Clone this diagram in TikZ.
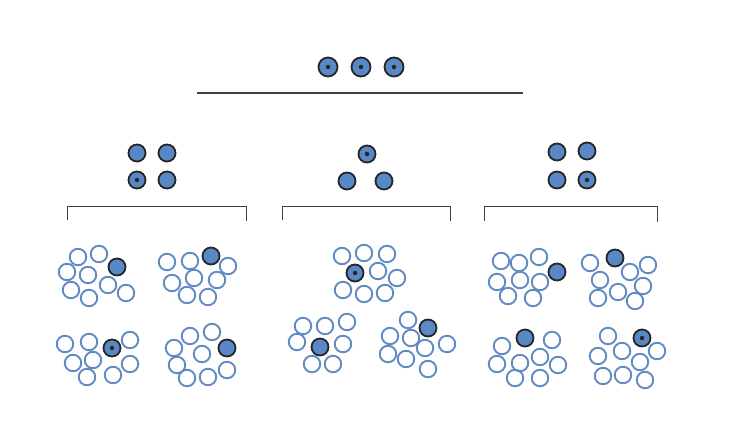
\documentclass[tikz,border=0pt]{standalone}
\usetikzlibrary{positioning}
\definecolor{ballblue}{RGB}{88,136,198}
\definecolor{ringblue}{RGB}{98,138,194}

\begin{document}
\begin{tikzpicture}[
        x=1pt, y=-1pt,
        big/.style={circle, draw=black!85, line width=1.8pt, fill=ballblue, minimum size=19pt, inner sep=0pt},
        ball/.style={circle, draw=black!85, line width=1.8pt, fill=ballblue, minimum size=17pt, inner sep=0pt},
        ring/.style={circle, draw=ringblue, line width=1.9pt, minimum size=16.5pt, inner sep=0pt},
        dot/.style={circle, fill=black!85, minimum size=4.5pt, inner sep=0pt},
        bar/.style={line width=1.2pt, black!75},
        brace/.style={line width=0.9pt, black!75}
    ]
        \useasboundingbox (0,0) rectangle (740,447);

        \node[big] (T1) at (328,67) {};
        \node[big] (T2) at (361,67) {};
        \node[big] (T3) at (394,67) {};
        \node[dot] (t1) at (T1) {};
        \node[dot] (t2) at (T2) {};
        \node[dot] (t3) at (T3) {};
        \draw[bar] (197,93) -- (523,93);

        \node[ball] (L1) at (137,153) {};
        \node[ball] (L2) at (167,153) {};
        \node[ball] (L3) at (137,180) {};
        \node[ball] (L4) at (167,180) {};
        \node[dot] (l3) at (L3) {};
        \draw[brace] (67,220) |- (246,206) -- (246,221);

        \node[ball] (M1) at (367,154) {};
        \node[ball] (M2) at (347,181) {};
        \node[ball] (M3) at (384,181) {};
        \node[dot] (m1) at (M1) {};
        \draw[brace] (282,220) |- (450,206) -- (450,221);

        \node[ball] (R1) at (557,152) {};
        \node[ball] (R2) at (587,151) {};
        \node[ball] (R3) at (557,180) {};
        \node[ball] (R4) at (587,180) {};
        \node[dot] (r4) at (R4) {};
        \draw[brace] (484,221) |- (657,206) -- (657,222);

        \foreach \x/\y [count=\i] in {78/257, 99/254, 67/272, 88/275, 71/290, 108/285, 126/293, 89/298}
            \node[ring] (a\i) at (\x,\y) {};
        \node[ball] (A) at (117,267) {};

        \foreach \x/\y [count=\i] in {167/262, 190/261, 228/266, 172/283, 194/278, 217/280, 187/295, 208/297}
            \node[ring] (b\i) at (\x,\y) {};
        \node[ball] (B) at (211,256) {};

        \foreach \x/\y [count=\i] in {65/344, 89/342, 130/340, 73/363, 93/360, 130/364, 87/377, 113/375}
            \node[ring] (c\i) at (\x,\y) {};
        \node[ball] (C) at (112,348) {};
        \node[dot] (c) at (C) {};

        \foreach \x/\y [count=\i] in {190/336, 212/332, 174/348, 202/354, 177/365, 187/378, 208/377, 227/370}
            \node[ring] (d\i) at (\x,\y) {};
        \node[ball] (D) at (227,348) {};

        \foreach \x/\y [count=\i] in {342/256, 364/253, 387/254, 378/271, 397/278, 343/290, 364/294, 385/293}
            \node[ring] (e\i) at (\x,\y) {};
        \node[ball] (E) at (355,273) {};
        \node[dot] (e) at (E) {};

        \foreach \x/\y [count=\i] in {303/326, 325/326, 347/322, 297/342, 343/344, 312/364, 333/364}
            \node[ring] (f\i) at (\x,\y) {};
        \node[ball] (F) at (320,347) {};

        \foreach \x/\y [count=\i] in {408/320, 390/336, 411/338, 388/354, 425/348, 447/344, 406/359, 428/369}
            \node[ring] (g\i) at (\x,\y) {};
        \node[ball] (G) at (428,328) {};

        \foreach \x/\y [count=\i] in {501/261, 519/263, 539/257, 497/282, 520/280, 540/282, 508/296, 533/298}
            \node[ring] (h\i) at (\x,\y) {};
        \node[ball] (H) at (557,272) {};

        \foreach \x/\y [count=\i] in {590/263, 630/272, 648/265, 600/280, 643/286, 598/298, 618/292, 635/301}
            \node[ring] (i\i) at (\x,\y) {};
        \node[ball] (I) at (615,258) {};

        \foreach \x/\y [count=\i] in {502/346, 552/340, 497/364, 520/363, 540/357, 558/365, 515/378, 540/378}
            \node[ring] (j\i) at (\x,\y) {};
        \node[ball] (J) at (525,338) {};

        \foreach \x/\y [count=\i] in {608/336, 598/356, 622/351, 640/362, 657/351, 603/376, 623/375, 645/380}
            \node[ring] (k\i) at (\x,\y) {};
        \node[ball] (K) at (642,338) {};
        \node[dot] (k) at (K) {};
    \end{tikzpicture}
\end{document}
